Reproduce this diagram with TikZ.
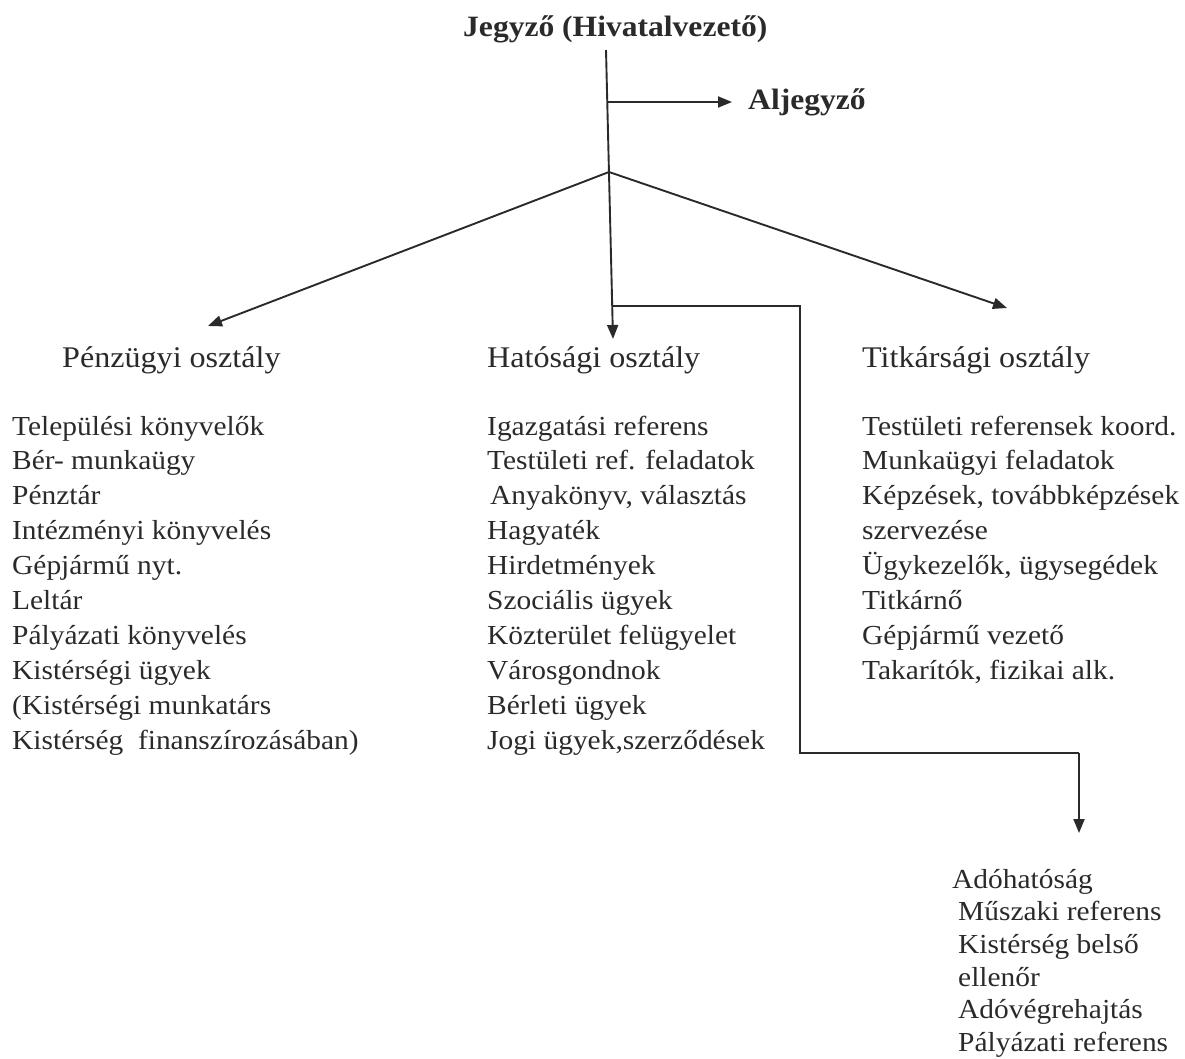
\documentclass[tikz,border=0pt]{standalone}
\usepackage{fontspec}
\setmainfont{Liberation Serif}[FakeStretch=1.07]
\usetikzlibrary{arrows.meta}
\definecolor{ink}{HTML}{2A2A2A}
\tikzset{
  arr/.style={line width=1.9pt, draw=ink, -{Triangle[length=14pt,width=11pt]}},
  ln/.style={line width=1.9pt, draw=ink},
  item/.style={anchor=base west, inner sep=0pt, text=ink, font=\fontsize{27.5}{32}\selectfont},
  head/.style={anchor=base west, inner sep=0pt, text=ink, font=\fontsize{30}{34}\selectfont},
  boss/.style={anchor=base west, inner sep=0pt, text=ink, font=\bfseries\fontsize{29.5}{34}\selectfont}
}
\begin{document}
\begin{tikzpicture}[x=1pt,y=-1pt]
\useasboundingbox (0,0) rectangle (1185,1059);
% top nodes
\node[boss] (j) at (463,37) {Jegyző (Hivatalvezető)};
\node[boss] (a) at (748,110) {Aljegyző};
% headings
\node[head] (p) at (62,367) {Pénzügyi osztály};
\node[head] (h) at (487,367) {Hatósági osztály};
\node[head] (t) at (862,367) {Titkársági osztály};
% coordinates
\coordinate (top) at (606,50);
\coordinate (al) at (608,102);
\coordinate (alt) at (732,102);
\coordinate (br) at (609,172);
\coordinate (hb) at (613,306);
\coordinate (ht) at (613,339);
\coordinate (pt) at (208,326);
\coordinate (tt) at (1007,308);
\coordinate (c1) at (800,306);
\coordinate (c2) at (800,753);
\coordinate (c3) at (1079,753);
\coordinate (c4) at (1079,833);
% connectors
\draw[arr] (top) -- (ht);
\draw[arr] (al) -- (alt);
\draw[arr] (br) -- (pt);
\draw[arr] (br) -- (tt);
\draw[ln] (hb) -- (c1) -- (c2) -- (c3);
\draw[arr] (c3) -- (c4);
% Pénzügyi list
\foreach \txt [count=\i] in {Települési könyvelők,Bér- munkaügy,Pénztár,Intézményi könyvelés,Gépjármű nyt.,Leltár,Pályázati könyvelés,Kistérségi ügyek,{(Kistérségi munkatárs},{Kistérség\ \ finanszírozásában)}}
  \node[item] (pl\i) at (12,{435+(\i-1)*34.9}) {\txt};
% Hatósági list
\foreach \txt/\dx [count=\i] in {Igazgatási referens/0,Testületi ref. feladatok/0,Anyakönyv{,} választás/3,Hagyaték/0,Hirdetmények/0,Szociális ügyek/0,Közterület felügyelet/0,Városgondnok/0,Bérleti ügyek/0,{Jogi ügyek,szerződések}/0}
  \node[item] (hl\i) at ({487+\dx},{435+(\i-1)*34.9}) {\txt};
% Titkársági list
\foreach \txt [count=\i] in {Testületi referensek koord.,Munkaügyi feladatok,{Képzések, továbbképzések},szervezése,{Ügykezelők, ügysegédek},Titkárnő,Gépjármű vezető,{Takarítók, fizikai alk.}}
  \node[item] (tl\i) at (862,{435+(\i-1)*34.9}) {\txt};
% Adóhatóság list
\node[item] (ad1) at (952,888) {Adóhatóság};
\foreach \txt [count=\i] in {Műszaki referens,Kistérség belső,ellenőr,Adóvégrehajtás,Pályázati referens}
  \node[item] (ad\i x) at (958,{888+\i*32.7}) {\txt};
\end{tikzpicture}
\end{document}
